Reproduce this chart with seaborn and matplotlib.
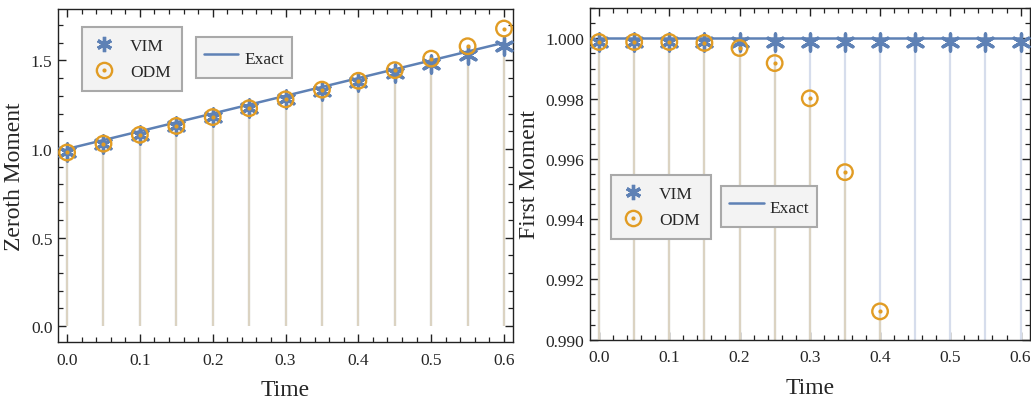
import numpy as np
import pandas as pd
import matplotlib
matplotlib.use("Agg")
import matplotlib.pyplot as plt
from matplotlib.lines import Line2D
from matplotlib.ticker import MultipleLocator, FormatStrFormatter
import seaborn as sns

# ---------------- data ----------------
time = [0.0, 0.05, 0.10, 0.15, 0.20, 0.25, 0.30, 0.35, 0.40, 0.45, 0.50, 0.55, 0.60]

zeroth_vim = [0.98, 1.03, 1.08, 1.13, 1.18, 1.23, 1.28, 1.33, 1.38, 1.43, 1.48, 1.53, 1.58]
zeroth_odm = [0.98, 1.03, 1.08, 1.13, 1.18, 1.23, 1.28, 1.335, 1.385, 1.445, 1.51, 1.58, 1.68]
zeroth_exact_t = [0.0, 0.6]
zeroth_exact = [1.0, 1.6]

first_vim = [0.99989] * 13
first_odm = [0.99988, 0.99988, 0.99988, 0.99985, 0.99968, 0.99918, 0.99801,
             0.99556, 0.99094, 0.9835, 0.973, 0.958, 0.938]
first_exact_t = [0.0, 0.6]
first_exact = [1.0, 1.0]

# ---------------- style ----------------
sns.set_theme(style="white")
plt.rcParams["font.family"] = ["Liberation Serif", "DejaVu Serif"]
plt.rcParams["mathtext.fontset"] = "stix"

BLUE = "#5e81b5"
ORANGE = "#e19c24"
STEM_ODM = "#dbd3c2"
STEM_VIM = "#d6ddec"
FRAME = "#222222"

fig = plt.figure(figsize=(10.31, 4.02), dpi=100)
axL = fig.add_axes([0.0563, 0.1468, 0.4413, 0.8282])
axR = fig.add_axes([0.5723, 0.1525, 0.4267, 0.8245])


def draw(ax, vim, odm, ext_t, ext, base):
    df = pd.DataFrame({"t": time, "vim": vim, "odm": odm})
    # stems
    ax.vlines(df["t"], base, df["vim"], colors=STEM_VIM, lw=1.6, zorder=1)
    ax.vlines(df["t"], base, np.minimum(df["odm"], df["vim"]), colors=STEM_ODM, lw=1.6, zorder=1.5)
    # exact line
    sns.lineplot(x=ext_t, y=ext, ax=ax, color=BLUE, lw=1.8, zorder=3, legend=False)
    # VIM asterisks
    sns.scatterplot(data=df, x="t", y="vim", ax=ax, marker=(6, 2, 0), s=150,
                    color=BLUE, edgecolor=BLUE, linewidth=2.4, zorder=4, legend=False)
    # ODM circle with dot
    sns.scatterplot(data=df, x="t", y="odm", ax=ax, marker="o", s=125,
                    facecolor="none", edgecolor=ORANGE, linewidth=1.7, zorder=5, legend=False)
    sns.scatterplot(data=df, x="t", y="odm", ax=ax, marker="o", s=9,
                    color=ORANGE, edgecolor=ORANGE, linewidth=0, zorder=5, legend=False)


draw(axL, zeroth_vim, zeroth_odm, zeroth_exact_t, zeroth_exact, 0.0)
draw(axR, first_vim, first_odm, first_exact_t, first_exact, 0.990)

axL.set_xlim(-0.0124, 0.6124)
axL.set_ylim(-0.09, 1.79)
axR.set_xlim(-0.0128, 0.6134)
axR.set_ylim(0.990, 1.001)

for ax in (axL, axR):
    ax.xaxis.set_major_locator(MultipleLocator(0.1))
    ax.xaxis.set_minor_locator(MultipleLocator(0.02))
    ax.xaxis.set_major_formatter(FormatStrFormatter("%.1f"))
    ax.tick_params(which="both", direction="in", top=True, right=True,
                   bottom=True, left=True, color=FRAME, labelsize=12.5, pad=4)
    ax.tick_params(axis="x", pad=7)
    ax.tick_params(which="major", length=6, width=1.0)
    ax.tick_params(which="minor", length=3.5, width=0.9)
    for sp in ax.spines.values():
        sp.set_color(FRAME)
        sp.set_linewidth(1.0)
    ax.set_xlabel("Time", fontsize=17, labelpad=8)

axL.yaxis.set_major_locator(MultipleLocator(0.5))
axL.yaxis.set_minor_locator(MultipleLocator(0.1))
axL.yaxis.set_major_formatter(FormatStrFormatter("%.1f"))
axR.yaxis.set_major_locator(MultipleLocator(0.002))
axR.yaxis.set_minor_locator(MultipleLocator(0.0005))
axR.yaxis.set_major_formatter(FormatStrFormatter("%.3f"))
axL.set_ylabel("Zeroth Moment", fontsize=17, labelpad=4)
axR.set_ylabel("First Moment", fontsize=17, labelpad=4)

# legends
vim_h = Line2D([], [], ls="none", marker=(6, 2, 0), ms=11, mew=2.4, color=BLUE, mec=BLUE)
odm_c = Line2D([], [], ls="none", marker="o", ms=11, mfc="none", mec=ORANGE, mew=1.7)
odm_d = Line2D([], [], ls="none", marker="o", ms=3, mfc=ORANGE, mec=ORANGE, mew=0)
exact_h = Line2D([], [], color=BLUE, lw=1.8)


def legends(ax, loc1, loc2):
    kw = dict(frameon=True, fancybox=False, shadow=False, fontsize=12.5,
              facecolor="#f3f3f3", edgecolor="#a9a9a9", framealpha=1,
              borderaxespad=0)
    l1 = ax.legend([vim_h, (odm_c, odm_d)], ["VIM", "ODM"], loc="upper left",
                   bbox_to_anchor=loc1, handlelength=1.2, handletextpad=0.9,
                   borderpad=0.65, labelspacing=0.55, **kw)
    l1.get_frame().set_linewidth(1.5)
    ax.add_artist(l1)
    l2 = ax.legend([exact_h], ["Exact"], loc="upper left", bbox_to_anchor=loc2,
                   handlelength=2.0, handletextpad=0.35, handleheight=1.9,
                   borderpad=0.45, **kw)
    l2.get_frame().set_linewidth(1.5)
    for l in (l1, l2):
        l.set_zorder(10)


legends(axL, (0.0527, 0.946), (0.303, 0.916))
legends(axR, (0.0477, 0.497), (0.298, 0.464))

fig.savefig("out.png", dpi=100)
